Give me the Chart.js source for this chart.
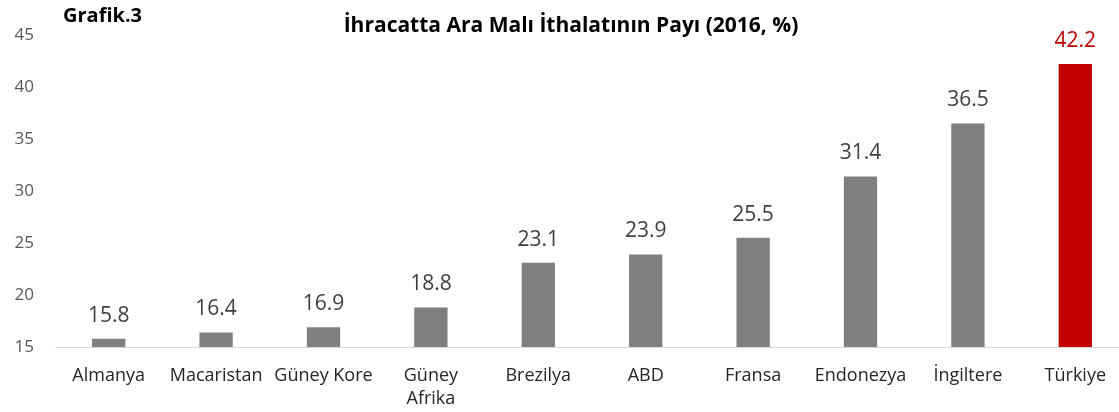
<!DOCTYPE html>
<html><head><meta charset="utf-8">
<script src="https://cdn.jsdelivr.net/npm/chart.js@4"></script>
<style>
html,body{margin:0;padding:0;background:#fff;overflow:hidden;}
#wrap{position:relative;width:1130px;height:412px;}
</style></head>
<body>
<div id="wrap"><canvas id="c"></canvas></div>
<script>
const categories = ['Almanya','Macaristan','Güney Kore',['Güney','Afrika'],'Brezilya','ABD','Fransa','Endonezya','İngiltere','Türkiye'];
const values = [15.8,16.4,16.9,18.8,23.1,23.9,25.5,31.4,36.5,42.2];
const barColors = ['#7F7F7F','#7F7F7F','#7F7F7F','#7F7F7F','#7F7F7F','#7F7F7F','#7F7F7F','#7F7F7F','#7F7F7F','#C00000'];
const labelColors = ['#404040','#404040','#404040','#404040','#404040','#404040','#404040','#404040','#404040','#C00000'];
const yTicks = [15,20,25,30,35,40,45];
const titleText = 'İhracatta Ara Malı İthalatının Payı (2016, %)';
const figText = 'Grafik.3';

const FONT = "'Open Sans', sans-serif";

const labelsPlugin = {
  id: 'valueLabels',
  afterDatasetsDraw(chart) {
    const ctx = chart.ctx;
    const meta = chart.getDatasetMeta(0);
    ctx.save();
    ctx.font = "21px " + FONT;
    ctx.textAlign = 'center';
    ctx.textBaseline = 'alphabetic';
    meta.data.forEach((bar, i) => {
      ctx.fillStyle = labelColors[i];
      ctx.fillText(values[i].toFixed(1), bar.x, bar.y - 17);
    });
    ctx.restore();
  }
};
const titlePlugin = {
  id: 'titles',
  afterDraw(chart) {
    const ctx = chart.ctx;
    ctx.save();
    ctx.fillStyle = '#000';
    ctx.textBaseline = 'alphabetic';
    ctx.font = "bold 20px " + FONT;
    ctx.textAlign = 'left';
    ctx.fillText(figText, 63, 22);
    ctx.textAlign = 'center';
    ctx.font = "bold 21px " + FONT;
    ctx.fillText(titleText, 571, 32);
    ctx.restore();
  }
};

new Chart(document.getElementById('c'), {
  type: 'bar',
  data: {
    labels: categories,
    datasets: [{
      data: values,
      backgroundColor: barColors,
      barPercentage: 0.31,
      categoryPercentage: 1.0
    }]
  },
  options: {
    responsive: true,
    maintainAspectRatio: false,
    animation: false,
    layout: { padding: { top: 35, right: 1, left: 0, bottom: 0 } },
    plugins: { legend: { display: false }, tooltip: { enabled: false }, title: { display: false } },
    scales: {
      x: {
        grid: { display: false, drawTicks: false },
        border: { display: true, color: '#D9D9D9', width: 1 },
        ticks: { color: '#262626', font: { family: FONT, size: 18, lineHeight: 1.3 }, padding: 17, maxRotation: 0, autoSkip: false },
        afterFit(scale) { scale.height = 65; }
      },
      y: {
        min: 15, max: 45,
        grid: { display: false, drawTicks: false },
        border: { display: false },
        afterBuildTicks(scale) { scale.ticks = yTicks.map(v => ({ value: v })); },
        ticks: { color: '#595959', font: { family: FONT, size: 17 }, padding: 21 },
        afterFit(scale) { scale.width = 55; }
      }
    }
  },
  plugins: [labelsPlugin, titlePlugin]
});
</script>
</body></html>
